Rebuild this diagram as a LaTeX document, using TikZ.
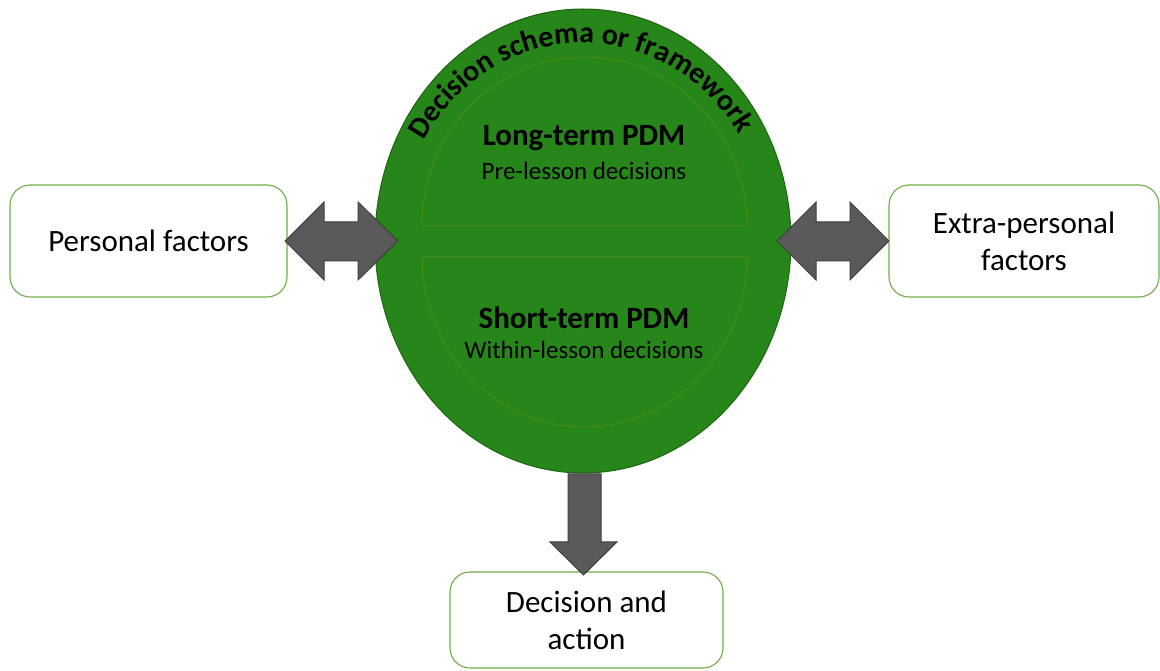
\documentclass[tikz,border=0pt]{standalone}
\usepackage{fontspec}
\setmainfont{Carlito}
\usetikzlibrary{decorations.text}
\definecolor{schemagreen}{HTML}{27861A}
\definecolor{schemaedge}{HTML}{1E6412}
\definecolor{halfedge}{HTML}{5E8E12}
\definecolor{boxedge}{HTML}{70AD47}
\definecolor{arrowfill}{HTML}{5A5A5A}
\definecolor{arrowedge}{HTML}{3F3F3F}
\begin{document}
\begin{tikzpicture}[x=1pt,y=1pt,
  factorbox/.style={draw=boxedge, line width=1.1pt, fill=white, rounded corners=20pt,
    align=center, font=\fontsize{31}{37}\selectfont},
  blockarrow/.style={draw=arrowedge, line width=1pt, fill=arrowfill, line join=miter},
  halfpart/.style={draw=halfedge, line width=0.6pt, fill=schemagreen},
  titletext/.style={font=\bfseries\fontsize{31}{36}\selectfont},
  subtext/.style={font=\fontsize{25}{29}\selectfont}]
\useasboundingbox (0,0) rectangle (1160,670);

% decision schema ellipse
\draw[fill=schemagreen, draw=schemaedge, line width=1pt] (583,429) ellipse [x radius=208, y radius=232];
\coordinate (schema) at (583,429);

% long-term (upper) and short-term (lower) halves
\draw[halfpart] (422,444) arc[start angle=180, end angle=0, x radius=162.5, y radius=169] -- cycle;
\draw[halfpart] (422,413) arc[start angle=180, end angle=360, x radius=162.5, y radius=170] -- cycle;

% curved heading
\path[decorate, decoration={text along path, text align=center,
  text={|\bfseries\fontsize{30}{36}\selectfont|Decision schema or framework}}]
  (583,427) ++(165:186 and 200) arc[start angle=165, end angle=17, x radius=186, y radius=200];

\node[titletext] (lt) at (584,532) {Long-term PDM};
\node[subtext] (ltd) at (584,499) {Pre-lesson decisions};
\node[titletext] (st) at (584,352) {Short-term PDM};
\node[subtext] (std) at (584,320) {Within-lesson decisions};

% factor boxes
\node[factorbox, minimum width=277pt, minimum height=112pt] (pf) at (148.5,429) {Personal factors};
\node[factorbox, minimum width=270pt, minimum height=112pt] (ef) at (1024,429) {Extra-personal\\factors};
\node[factorbox, minimum width=273pt, minimum height=96pt] (da) at (586.5,50) {Decision and\\action};

% block arrows
\draw[blockarrow] (285,429) -- (324,468) -- (324,448) -- (358,448) -- (358,468) -- (398,429)
  -- (358,390) -- (358,409) -- (324,409) -- (324,390) -- cycle;
\draw[blockarrow] (777,429) -- (816,468) -- (816,448) -- (850,448) -- (850,468) -- (889,429)
  -- (850,390) -- (850,409) -- (816,409) -- (816,390) -- cycle;
\draw[blockarrow] (568,196) -- (601,196) -- (601,128) -- (617,128) -- (583.5,95)
  -- (550,128) -- (568,128) -- cycle;
\end{tikzpicture}
\end{document}
